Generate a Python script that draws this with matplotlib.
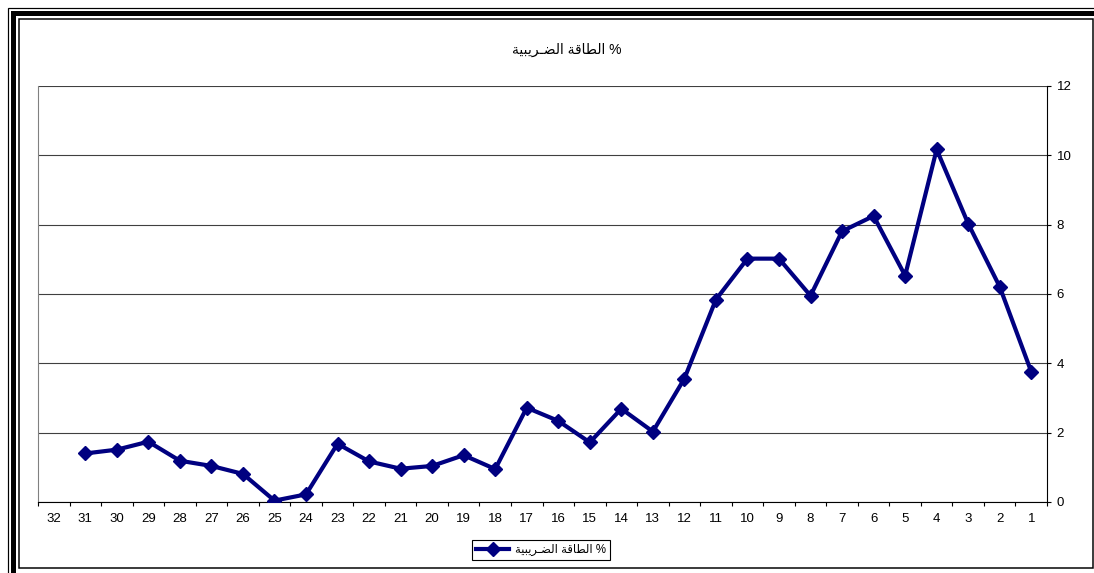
import matplotlib
matplotlib.use('Agg')
import matplotlib.pyplot as plt
from matplotlib.patches import Rectangle
from matplotlib.ticker import FixedLocator, NullFormatter, FixedFormatter

# ---- data ----
periods = list(range(1, 32))
tax_capacity = [3.76, 6.21, 8.03, 10.17, 6.53, 8.25, 7.81, 5.95, 7.02, 7.02,
                5.84, 3.56, 2.03, 2.69, 1.72, 2.34, 2.72, 0.95, 1.35, 1.04,
                0.96, 1.17, 1.68, 0.22, 0.04, 0.81, 1.04, 1.19, 1.74, 1.51, 1.40]
category_labels = [str(i) for i in range(1, 33)]
y_ticks = [0, 2, 4, 6, 8, 10, 12]

# "الطاقة الضريبية %" written with Arabic presentation forms in visual order
word1 = '\ufe94\ufed7\ufe8e\ufec4\ufedf\ufe8d'                  # الطاقة
word2 = '\ufe94\ufef4\ufe92\ufef3\ufeae\u0640\ufec0\ufedf\ufe8d'  # الضـريبية
series_label = word2 + ' ' + word1 + ' %'

W, H = 1094, 573
FONT = ['Liberation Sans', 'DejaVu Sans']
plt.rcParams['font.family'] = FONT

fig = plt.figure(figsize=(W / 100, H / 100), dpi=100)
fig.patch.set_facecolor('white')


def fx(px):
    return px / W


def fy(py):
    return 1 - py / H


# ---- page-style frame ----
def frame(x0, y0, x1, y1, lw_px, color='black'):
    fig.patches.append(Rectangle((fx(x0), fy(y1)), fx(x1) - fx(x0), fy(y0) - fy(y1),
                                 transform=fig.transFigure, fill=False,
                                 edgecolor=color, linewidth=lw_px * 0.72,
                                 zorder=10, clip_on=False))

frame(7.5, 7.5, 1110, 590, 1.2)
frame(13, 12.5, 1102, 582, 5)
frame(19, 18.5, 1092.5, 567.5, 1.5)

# ---- axes ----
left, right, top, bottom = 38, 1047, 86, 502
ax = fig.add_axes([fx(left), fy(bottom), fx(right) - fx(left), fy(top) - fy(bottom)])

ax.plot(periods, tax_capacity, color='#000080', linewidth=3, marker='D',
        markersize=7, label=series_label, zorder=3)

ax.set_xlim(32.5, 0.5)
ax.set_ylim(0, 12)

# category axis: tick marks between categories, labels centred on categories
ax.xaxis.set_major_locator(FixedLocator([i + 0.5 for i in range(0, 33)]))
ax.xaxis.set_major_formatter(NullFormatter())
ax.xaxis.set_minor_locator(FixedLocator(list(range(1, 33))))
ax.xaxis.set_minor_formatter(FixedFormatter(category_labels))
ax.tick_params(axis='x', which='major', direction='out', length=3, width=0.8, color='black')
ax.tick_params(axis='x', which='minor', length=0, pad=8, labelsize=9.5)

ax.yaxis.tick_right()
ax.set_yticks(y_ticks)
ax.tick_params(axis='y', direction='out', length=3, width=0.8, pad=4, labelsize=9.5)

ax.yaxis.grid(True, color='#404040', linewidth=0.8)
ax.set_axisbelow(True)

ax.spines['top'].set_visible(False)
ax.spines['left'].set_color('#808080')
ax.spines['left'].set_linewidth(0.8)
ax.spines['bottom'].set_color('black')
ax.spines['bottom'].set_linewidth(0.8)
ax.spines['right'].set_color('black')
ax.spines['right'].set_linewidth(0.8)

# chart title
fig.text(fx(567), fy(50), series_label, ha='center', va='center', fontsize=10,
         family=FONT)

# legend
leg = fig.legend(loc='center', bbox_to_anchor=(fx(541), fy(550)), fontsize=8.3,
                 frameon=True, fancybox=False, edgecolor='black', framealpha=1,
                 handlelength=2.9, borderpad=0.3, handletextpad=0.5,
                 borderaxespad=0, numpoints=1)
leg.get_frame().set_linewidth(0.8)

fig.savefig('out.png', dpi=100)
